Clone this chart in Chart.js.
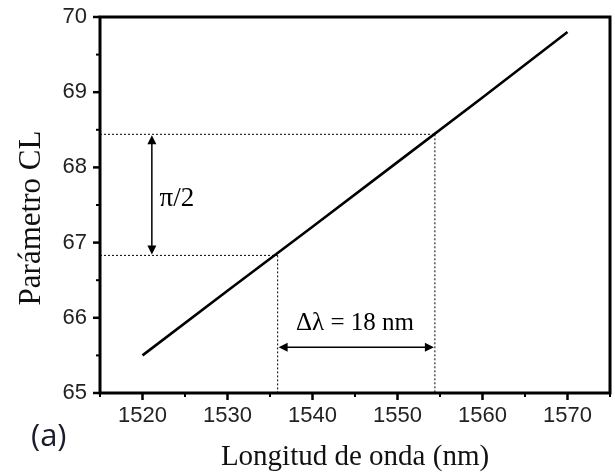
<!DOCTYPE html>
<html>
<head>
<meta charset="utf-8">
<script src="https://cdn.jsdelivr.net/npm/chart.js@4/dist/chart.umd.min.js"></script>
<style>
html, body { margin: 0; padding: 0; background: #fff; }
</style>
</head>
<body>
<canvas id="grafico" width="615" height="472"></canvas>
<script>
// valores
var longitudes = [1520, 1530, 1540, 1550, 1560, 1570];
var parametroCL = [65.5, 66.36, 67.21, 68.07, 68.93, 69.8];

var limitesX = [1515, 1575];
var limitesY = [65, 70];
var ticksX = [1520, 1530, 1540, 1550, 1560, 1570];
var ticksY = [65, 66, 67, 68, 69, 70];

// linhas pontilhadas: pares (lambda, CL)
var lambdasMarcadas = [1535.9, 1554.4];
var clMarcados = [66.83, 68.44];

// setas e textos
var setaPiX = 1521.1;          // seta vertical entre os dois CL
var setaLambdaY = 65.61;       // seta horizontal entre as duas lambdas
var textos = ['π/2', 'Δλ = 18 nm'];
var posTextos = [[1522.0, 67.58], [1545.0, 65.93]];

var tituloX = 'Longitud de onda (nm)';
var tituloY = 'Parámetro CL';
var rotulo = '(a)';

function ponta(ctx, x, y, dx, dy) {
    // ponta de seta preenchida apontando para (dx,dy)
    const L = 9, W = 4.5;
    ctx.beginPath();
    ctx.moveTo(x, y);
    ctx.lineTo(x - dx * L - dy * W, y - dy * L + dx * W);
    ctx.lineTo(x - dx * L + dy * W, y - dy * L - dx * W);
    ctx.closePath();
    ctx.fill();
}

const pontilhados = {
    id: 'pontilhados',
    beforeDatasetsDraw(chart) {
        const { ctx, chartArea: a, scales: { x, y } } = chart;
        ctx.save();
        ctx.strokeStyle = '#000';
        ctx.lineWidth = 1;
        ctx.setLineDash([2, 2]);
        for (let i = 0; i < lambdasMarcadas.length; i++) {
            const px = x.getPixelForValue(lambdasMarcadas[i]);
            const py = y.getPixelForValue(clMarcados[i]);
            ctx.beginPath();
            ctx.moveTo(a.left, py);
            ctx.lineTo(px, py);
            ctx.moveTo(px, py);
            ctx.lineTo(px, a.bottom);
            ctx.stroke();
        }
        ctx.restore();
    }
};

const extras = {
    id: 'extras',
    afterDraw(chart) {
        const { ctx, chartArea: a, scales: { x, y } } = chart;
        ctx.save();
        ctx.strokeStyle = '#000';
        ctx.fillStyle = '#000';

        // setas
        ctx.lineWidth = 1.5;
        const sx = x.getPixelForValue(setaPiX);
        const y1 = y.getPixelForValue(clMarcados[0]);
        const y2 = y.getPixelForValue(clMarcados[1]);
        ctx.beginPath();
        ctx.moveTo(sx, y2 + 6);
        ctx.lineTo(sx, y1 - 6);
        ctx.stroke();
        ponta(ctx, sx, y2 + 1, 0, -1);
        ponta(ctx, sx, y1 - 1, 0, 1);

        const sy = y.getPixelForValue(setaLambdaY);
        const x1 = x.getPixelForValue(lambdasMarcadas[0]);
        const x2 = x.getPixelForValue(lambdasMarcadas[1]);
        ctx.beginPath();
        ctx.moveTo(x1 + 6, sy);
        ctx.lineTo(x2 - 6, sy);
        ctx.stroke();
        ponta(ctx, x1 + 1, sy, -1, 0);
        ponta(ctx, x2 - 1, sy, 1, 0);

        // textos das anotações
        ctx.textBaseline = 'middle';
        ctx.textAlign = 'left';
        ctx.font = '27px "Liberation Serif"';
        ctx.fillText(textos[0], x.getPixelForValue(posTextos[0][0]), y.getPixelForValue(posTextos[0][1]));
        ctx.textAlign = 'center';
        ctx.font = '25px "Liberation Serif"';
        ctx.fillText(textos[1], x.getPixelForValue(posTextos[1][0]), y.getPixelForValue(posTextos[1][1]));

        // moldura
        ctx.lineWidth = 3;
        ctx.strokeRect(a.left, a.top, a.right - a.left, a.bottom - a.top);

        // marcas dos eixos (principais e secundárias)
        ctx.lineCap = 'butt';
        const tx = x.ticks.map(t => t.value);
        const ty = y.ticks.map(t => t.value);
        const passoX = tx[1] - tx[0];
        const meiosX = [tx[0] - passoX / 2].concat(tx.map(v => v + passoX / 2));
        const meiosY = ty.slice(0, -1).map((v, i) => (v + ty[i + 1]) / 2);
        ctx.lineWidth = 2.5;
        tx.forEach(v => {
            const p = x.getPixelForValue(v);
            ctx.beginPath(); ctx.moveTo(p, a.bottom); ctx.lineTo(p, a.bottom + 7); ctx.stroke();
        });
        ty.forEach(v => {
            const p = y.getPixelForValue(v);
            ctx.beginPath(); ctx.moveTo(a.left, p); ctx.lineTo(a.left - 7, p); ctx.stroke();
        });
        ctx.lineWidth = 2;
        meiosX.forEach(v => {
            if (v < limitesX[0] || v > limitesX[1]) return;
            const p = x.getPixelForValue(v);
            ctx.beginPath(); ctx.moveTo(p, a.bottom); ctx.lineTo(p, a.bottom + 4); ctx.stroke();
        });
        meiosY.forEach(v => {
            const p = y.getPixelForValue(v);
            ctx.beginPath(); ctx.moveTo(a.left, p); ctx.lineTo(a.left - 4, p); ctx.stroke();
        });

        // título do eixo y
        ctx.fillStyle = '#111';
        ctx.font = '31px "Liberation Serif"';
        ctx.textAlign = 'center';
        ctx.textBaseline = 'alphabetic';
        ctx.translate(40, 218);
        ctx.rotate(-Math.PI / 2);
        ctx.fillText(tituloY, 0, 0);
        ctx.restore();

        // rótulo (a)
        ctx.save();
        ctx.fillStyle = '#1b1b30';
        ctx.font = '31px "Open Sans"';
        ctx.textAlign = 'left';
        ctx.textBaseline = 'alphabetic';
        ctx.fillText(rotulo, 31, 446);
        ctx.restore();
    }
};

var grafico = new Chart(document.getElementById('grafico'), {
    type: 'scatter',
    data: {
        datasets: [{
            data: longitudes.map((v, i) => ({ x: v, y: parametroCL[i] })),
            showLine: true,
            borderColor: '#000',
            borderWidth: 2.6,
            pointRadius: 0,
            tension: 0
        }]
    },
    options: {
        responsive: false,
        animation: false,
        layout: { padding: { top: 17, right: 5, left: 0, bottom: 0 } },
        plugins: { legend: { display: false }, tooltip: { enabled: false } },
        scales: {
            x: {
                type: 'linear',
                min: limitesX[0],
                max: limitesX[1],
                grid: { display: false, drawTicks: false },
                border: { display: false },
                afterBuildTicks(scale) { scale.ticks = ticksX.map(v => ({ value: v })); },
                ticks: {
                    padding: 10,
                    color: '#222',
                    font: { family: 'Liberation Sans', size: 22 },
                    maxRotation: 0,
                    callback: v => String(v)
                },
                title: {
                    display: true,
                    text: tituloX,
                    color: '#111',
                    font: { family: 'Liberation Serif', size: 29, lineHeight: 1 },
                    padding: { top: 0, bottom: 0 }
                },
                afterFit(scale) {
                    scale.height = 79;
                    scale.paddingLeft = 0;
                    scale.paddingRight = 0;
                }
            },
            y: {
                min: limitesY[0],
                max: limitesY[1],
                grid: { display: false, drawTicks: false },
                border: { display: false },
                afterBuildTicks(scale) { scale.ticks = ticksY.map(v => ({ value: v })); },
                ticks: {
                    padding: 13,
                    color: '#222',
                    font: { family: 'Liberation Sans', size: 22 },
                    callback: v => String(v)
                },
                afterFit(scale) {
                    scale.width = 100;
                    scale.paddingTop = 0;
                    scale.paddingBottom = 0;
                }
            }
        }
    },
    plugins: [pontilhados, extras]
});
</script>
</body>
</html>
